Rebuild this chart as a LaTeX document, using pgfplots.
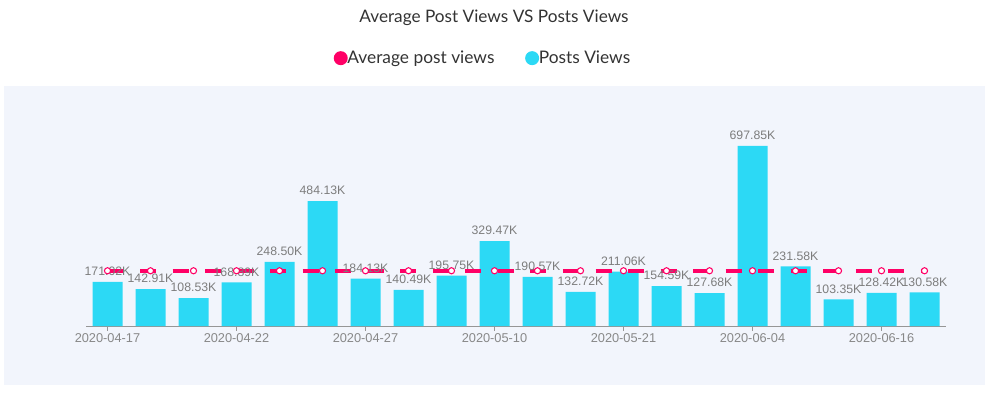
\documentclass[border=0pt]{standalone}
\usepackage{pgfplots}
\pgfplotsset{compat=1.18}
\usepackage{fontspec}
\setmainfont{Liberation Sans}
\newfontfamily\titlefont{Lato}
\definecolor{pinkc}{RGB}{255,0,102}
\definecolor{cyanc}{RGB}{44,217,245}
\definecolor{bgc}{RGB}{242,245,252}
\definecolor{lblc}{RGB}{125,125,125}
\definecolor{tickc}{RGB}{136,136,136}
\definecolor{axc}{RGB}{150,150,150}
\definecolor{titc}{RGB}{51,51,51}
\begin{document}
\begin{tikzpicture}[x=0.75pt,y=0.75pt]
\path (0,0) rectangle (991,393);
\fill[bgc] (4,8) rectangle (985,307);
\node[font=\titlefont\fontsize{12.9}{14}\selectfont, text=titc] at (494,375) {Average Post Views VS Posts Views};
\begin{axis}[
  at={(64.5pt,50.25pt)}, anchor=south west,
  scale only axis, width=645pt, height=162pt,
  xmin=-0.5, xmax=19.5, ymin=0, ymax=837.4,
  axis x line*=bottom, hide y axis,
  axis line style={axc, line width=0.75pt},
  xtick={0,3,6,9,12,15,18},
  xticklabels={2020-04-17,2020-04-22,2020-04-27,2020-05-10,2020-05-21,2020-06-04,2020-06-16},
  xticklabel style={font=\fontsize{9.6}{11}\selectfont, text=tickc, yshift=1pt},
  tick align=outside, major tick length=3.5pt,
  xtick style={axc, line width=0.75pt},
  /pgf/number format/assume math mode=true,
  clip=false,
  legend style={at={(0.462,1.24)}, anchor=center, draw=none, fill=none,
    font=\titlefont\fontsize{13}{14}\selectfont, text=titc,
    /tikz/every even column/.append style={column sep=21pt},
    legend cell align=left},
  legend columns=2,
]
\addlegendimage{legend image code/.code={\fill[pinkc,draw=none,overlay] (0pt,0pt) circle (5.25pt); \path[draw=none,fill=none] (-5.25pt,-5.25pt) rectangle (3pt,5.25pt);}}
\addlegendentry{Average post views}
\addlegendimage{legend image code/.code={\fill[cyanc,draw=none,overlay] (0pt,0pt) circle (5.25pt); \path[draw=none,fill=none] (-5.25pt,-5.25pt) rectangle (3pt,5.25pt);}}
\addlegendentry{Posts Views}
\addplot[ybar, bar width=22.5pt, fill=cyanc, draw=none, forget plot,
  nodes near coords={\pgfmathprintnumber[fixed,precision=2,fixed zerofill,assume math mode=true]{\pgfplotspointmeta}K},
  every node near coord/.append style={font=\fontsize{9.2}{10}\selectfont, text=lblc, yshift=1pt}]
  coordinates {
  (0,171.02) (1,142.91) (2,108.53) (3,168.89) (4,248.50)
  (5,484.13) (6,184.13) (7,140.49) (8,195.75) (9,329.47)
  (10,190.57) (11,132.72) (12,211.06) (13,154.59) (14,127.68)
  (15,697.85) (16,231.58) (17,103.35) (18,128.42) (19,130.58)};
\addplot[pinkc, line width=3pt, dash pattern=on 12pt off 12.4pt, forget plot,
  mark=*, mark size=2.3pt, mark options={solid, fill=white, draw=pinkc, line width=0.8pt}]
  coordinates {
  (0,214.11) (1,214.11) (2,214.11) (3,214.11) (4,214.11)
  (5,214.11) (6,214.11) (7,214.11) (8,214.11) (9,214.11)
  (10,214.11) (11,214.11) (12,214.11) (13,214.11) (14,214.11)
  (15,214.11) (16,214.11) (17,214.11) (18,214.11) (19,214.11)};
\end{axis}
\end{tikzpicture}
\end{document}
